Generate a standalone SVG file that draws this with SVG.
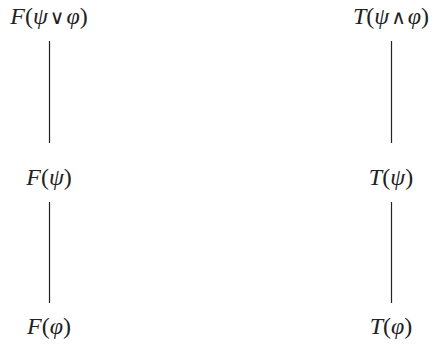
<svg xmlns="http://www.w3.org/2000/svg" width="433" height="346" viewBox="0 0 433 346">
<style>
text{font-family:"Liberation Serif","DejaVu Serif",serif;font-size:24px;fill:#222;text-anchor:middle}
.i{font-style:italic}
.o{font-family:"DejaVu Sans",sans-serif;font-size:20px}
.c line{stroke:#222;stroke-width:1.2}
</style>
<rect width="433" height="346" fill="#fff"/>
<g class="c" id="connectors">
<line x1="49.5" y1="41" x2="49.5" y2="143"/>
<line x1="49.5" y1="202" x2="49.5" y2="303"/>
<line x1="391.5" y1="41" x2="391.5" y2="143"/>
<line x1="391.5" y1="202" x2="391.5" y2="303"/>
</g>
<g id="n1"><text x="49" y="24"><tspan class="i">F</tspan>(<tspan class="i">ψ</tspan><tspan class="o" dx="2">∨</tspan><tspan class="i" dx="2">φ</tspan>)</text></g>
<g id="n2"><text x="49" y="185"><tspan class="i">F</tspan>(<tspan class="i">ψ</tspan>)</text></g>
<g id="n3"><text x="49" y="334"><tspan class="i">F</tspan>(<tspan class="i">φ</tspan>)</text></g>
<g id="n4"><text x="391" y="24"><tspan class="i">T</tspan>(<tspan class="i">ψ</tspan><tspan class="o" dx="2">∧</tspan><tspan class="i" dx="2">φ</tspan>)</text></g>
<g id="n5"><text x="391" y="185"><tspan class="i">T</tspan>(<tspan class="i">ψ</tspan>)</text></g>
<g id="n6"><text x="391" y="334"><tspan class="i">T</tspan>(<tspan class="i">φ</tspan>)</text></g>
</svg>
